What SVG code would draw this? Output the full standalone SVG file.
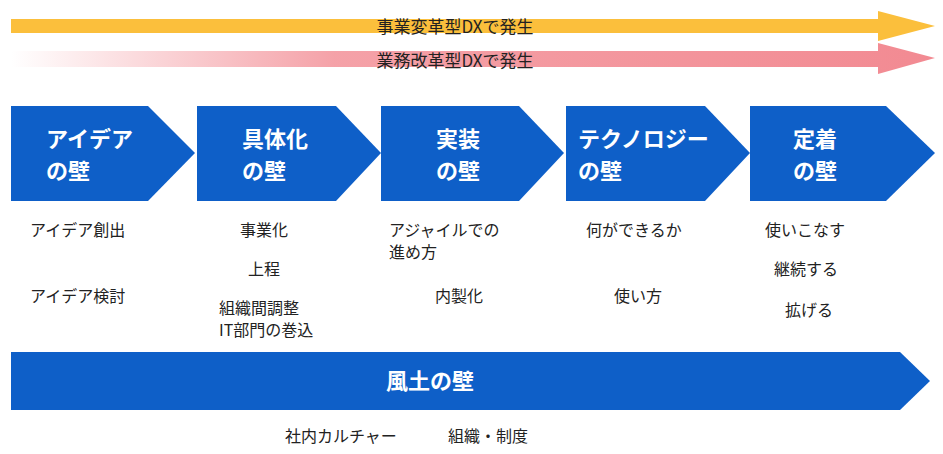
<svg xmlns="http://www.w3.org/2000/svg" width="943" height="454" viewBox="0 0 943 454">
<style>
.h{font-family:"Noto Sans CJK JP","Noto Sans",sans-serif;font-weight:bold;font-size:22px;fill:#fff}
.t{font-family:"Noto Sans CJK JP","Noto Sans",sans-serif;font-size:16px;fill:#222}
.a{font-family:"Noto Sans CJK JP","Noto Sans",sans-serif;font-size:17px;fill:#222;text-anchor:middle}
.c{fill:#0e5fc8}
</style>
<defs>
<linearGradient id="pg" x1="0" x2="1" gradientUnits="objectBoundingBox">
<stop offset="0" stop-color="#f28a92" stop-opacity="0"/>
<stop offset="0.35" stop-color="#f28a92" stop-opacity="0.8"/>
<stop offset="1" stop-color="#f28a92"/>
</linearGradient>
</defs>
<g id="arrow-business">
<polygon points="11,19 878,19 878,11 935,26 878,41 878,33 11,33" fill="#fbbf3c"/>
<text class="a" x="455" y="33">事業変革型DXで発生</text>
</g>
<g id="arrow-operation">
<polygon points="11,51 878,51 878,43 935,58 878,74 878,67 11,67" fill="url(#pg)"/>
<text class="a" x="455" y="67">業務改革型DXで発生</text>
</g>
<g id="wall1"><polygon class="c" points="11,106 148,106 195,153 148,201 11,201"/>
<text class="h" x="46" y="147">アイデア</text><text class="h" x="46" y="179">の壁</text></g>
<g id="wall2"><polygon class="c" points="197,106 336,106 381,153 336,201 197,201"/>
<text class="h" x="242" y="147">具体化</text><text class="h" x="242" y="179">の壁</text></g>
<g id="wall3"><polygon class="c" points="381,106 519,106 564,153 519,201 381,201"/>
<text class="h" x="436" y="147">実装</text><text class="h" x="436" y="179">の壁</text></g>
<g id="wall4"><polygon class="c" points="566,106 705,106 750,153 705,201 566,201"/>
<text class="h" x="578" y="147">テクノロジー</text><text class="h" x="578" y="179">の壁</text></g>
<g id="wall5"><polygon class="c" points="750,106 886,106 935,153 886,201 750,201"/>
<text class="h" x="793" y="147">定着</text><text class="h" x="793" y="179">の壁</text></g>
<g id="labels">
<text class="t" x="30" y="236">アイデア創出</text>
<text class="t" x="30" y="302">アイデア検討</text>
<text class="t" x="240" y="236">事業化</text>
<text class="t" x="248" y="275">上程</text>
<text class="t" x="219" y="314">組織間調整</text>
<text class="t" x="219" y="336">IT部門の巻込</text>
<text class="t" x="389" y="236">アジャイルでの</text>
<text class="t" x="389" y="258">進め方</text>
<text class="t" x="435" y="302">内製化</text>
<text class="t" x="586" y="236">何ができるか</text>
<text class="t" x="614" y="302">使い方</text>
<text class="t" x="765" y="236">使いこなす</text>
<text class="t" x="774" y="275">継続する</text>
<text class="t" x="785" y="316">拡げる</text>
</g>
<g id="culture"><polygon class="c" points="11,352 900,352 930,381 900,410 11,410"/>
<text class="h" x="430" y="389" text-anchor="middle">風土の壁</text></g>
<g id="culture-labels">
<text class="t" x="285" y="442">社内カルチャー</text>
<text class="t" x="448" y="442">組織・制度</text>
</g>
</svg>
